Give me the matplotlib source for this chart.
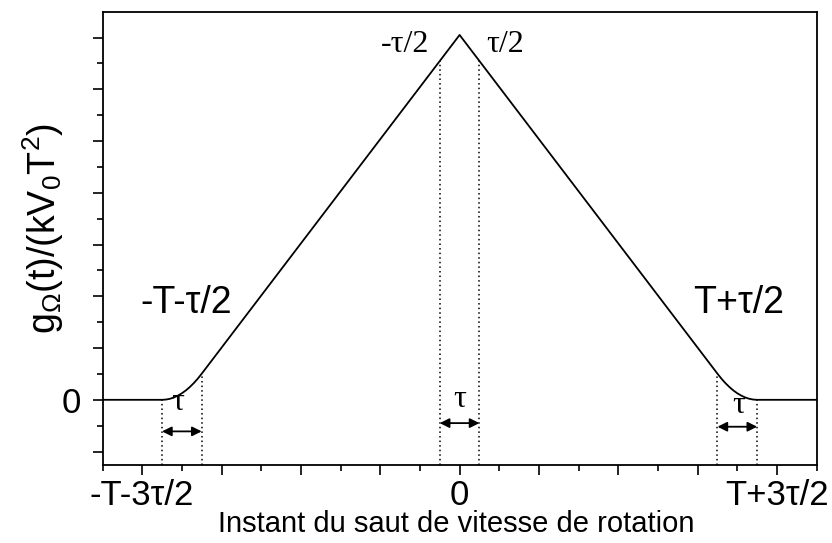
import matplotlib
matplotlib.use("Agg")
import matplotlib.pyplot as plt

plt.rcParams['font.family'] = ['Liberation Sans', 'DejaVu Sans']
plt.rcParams['mathtext.fontset'] = 'custom'
plt.rcParams['mathtext.rm'] = 'Liberation Sans'

# g(t) : triangle with smoothed feet (in units of the major x tick)
t = [-4.5, -3.75, -3.7, -3.65, -3.6, -3.55, -3.5, -3.45, -3.4, -3.35, -3.3, -3.25,
     0.0,
     3.25, 3.3, 3.35, 3.4, 3.45, 3.5, 3.55, 3.6, 3.65, 3.7, 3.75, 4.5]
g = [0.0, 0.0, 0.005, 0.02, 0.045, 0.081, 0.126, 0.181, 0.247, 0.322, 0.408, 0.504,
     7.05,
     0.504, 0.408, 0.322, 0.247, 0.181, 0.126, 0.081, 0.045, 0.02, 0.005, 0.0, 0.0]

# dotted guides : x position and height where they meet the curve
guide_x = [-3.75, -3.25, -0.25, 0.25, 3.25, 3.75]
guide_top = [0.0, 0.504, 6.55, 6.55, 0.504, 0.0]

# tau arrows : (start, end, height)
arrow_x0 = [-3.75, -0.25, 3.25]
arrow_x1 = [-3.25, 0.25, 3.75]
arrow_y = [-0.61, -0.45, -0.52]

xtick_pos = [-4, -3, -2, -1, 0, 1, 2, 3, 4]
xtick_lab = ['-T-3\u03c4/2', '', '', '', '0', '', '', '', 'T+3\u03c4/2']
ytick_pos = [-1, 0, 1, 2, 3, 4, 5, 6, 7]
ytick_lab = ['', '0', '', '', '', '', '', '', '']

fig = plt.figure(figsize=(8.32, 5.43), dpi=100)
ax = fig.add_axes([0.1232, 0.1436, 0.8584, 0.8349])

ax.plot(t, g, color='black', lw=1.3)
ax.vlines(guide_x, -1.26, guide_top, colors='black', lw=1.1, linestyles=(0, (1, 2)))
for x0, x1, y in zip(arrow_x0, arrow_x1, arrow_y):
    ax.annotate('', xy=(x1, y), xytext=(x0, y),
                arrowprops=dict(arrowstyle='<|-|>', color='black', lw=1.3,
                                mutation_scale=14, shrinkA=0, shrinkB=0))

serif = dict(family=['Liberation Serif', 'DejaVu Serif'], fontsize=23)
ax.text(-3.55, -0.19, '\u03c4', ha='center', va='baseline', **serif)
ax.text(0.0, -0.135, '\u03c4', ha='center', va='baseline', **serif)
ax.text(3.52, -0.25, '\u03c4', ha='center', va='baseline', **serif)
ax.text(-0.377, 6.72, '-\u03c4/2', ha='right', va='baseline', **serif)
ax.text(0.34, 6.72, '\u03c4/2', ha='left', va='baseline', **serif)

ax.text(-3.45, 1.68, '-T-\u03c4/2', ha='center', va='baseline', fontsize=27)
ax.text(3.52, 1.68, 'T+\u03c4/2', ha='center', va='baseline', fontsize=27)

ax.set_xlim(-4.5, 4.5)
ax.set_ylim(-1.26, 7.5)
ax.set_xticks(xtick_pos)
ax.set_xticklabels(xtick_lab)
ax.set_xticks([-4.5 + 0.5 * i for i in range(0, 19, 2)], minor=True)
ax.set_yticks(ytick_pos)
ax.set_yticklabels(ytick_lab)
ax.set_yticks([-0.5 + i for i in range(8)], minor=True)

ax.tick_params(which='major', direction='out', length=7.5, width=1.2, labelsize=25)
ax.tick_params(which='minor', direction='out', length=4, width=1.2)
ax.tick_params(axis='x', pad=2.5)
ax.tick_params(axis='y', pad=8)
for s in ax.spines.values():
    s.set_linewidth(1.3)

ax.set_xlabel('Instant du saut de vitesse de rotation', fontsize=21)
ax.xaxis.set_label_coords(0.495, -0.1)
fig.text(43 / 832, 1 - 228 / 543,
         r'g$_\mathregular{\Omega}$(t)/(kV$_\mathregular{0}$T$^\mathregular{2}$)',
         rotation=90, ha='center', va='center', fontsize=27)

fig.savefig('out.png', dpi=100)
